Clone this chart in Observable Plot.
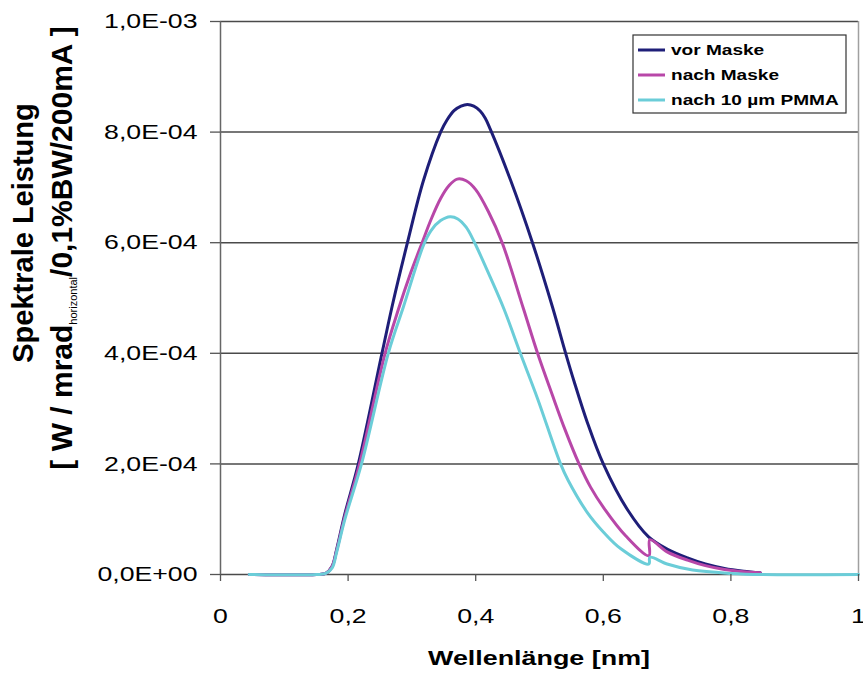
<!DOCTYPE html>
<html><head><meta charset="utf-8">
<script src="https://cdn.jsdelivr.net/npm/d3@7"></script>
<script src="https://cdn.jsdelivr.net/npm/@observablehq/plot@0.6"></script>
<style>
body{margin:0;background:#fff;}
#chart svg{font-family:"Liberation Sans",Arial,sans-serif;display:block;}
</style>
</head><body><div id="chart"></div><script>
const seriesNames = ["vor Maske", "nach Maske", "nach 10 µm PMMA"];
const seriesColors = ["#1e1e78", "#b847a8", "#6bcdd8"];

// wavelength [nm]
const vorX = [0.045,0.15,0.165,0.175,0.182,0.195,0.216,0.254,0.271,0.293,0.318,0.345,0.355,0.366,0.377,0.387,0.397,0.407,0.415,0.423,0.455,0.489,0.52,0.541,0.554,0.575,0.60,0.638,0.671,0.70,0.732,0.76,0.79,0.82,0.846];
// spectral power [1e-4 units]
const vorY = [0,0,0.02,0.15,0.45,1.1,2.0,4.05,4.95,6.0,7.12,8.0,8.22,8.39,8.47,8.5,8.47,8.38,8.25,8.05,7.12,6.0,4.85,4.0,3.5,2.75,2.0,1.17,0.68,0.46,0.30,0.19,0.11,0.06,0.03];

const nachX = [0.045,0.15,0.165,0.175,0.182,0.195,0.218,0.258,0.279,0.298,0.316,0.33,0.345,0.358,0.371,0.385,0.40,0.42,0.4415,0.475,0.497,0.52,0.54,0.562,0.58,0.601,0.635,0.6715,0.673,0.70,0.732,0.76,0.79,0.82,0.846];
const nachY = [0,0,0.02,0.15,0.43,1.05,2.0,4.0,4.8,5.45,6.0,6.42,6.8,7.03,7.15,7.12,6.96,6.56,6.0,4.8,4.0,3.25,2.62,2.0,1.58,1.2,0.7,0.34,0.63,0.41,0.26,0.16,0.09,0.05,0.03];

const pmmaX = [0.045,0.15,0.165,0.175,0.182,0.195,0.221,0.263,0.287,0.318,0.33,0.345,0.36,0.372,0.385,0.397,0.42,0.444,0.47,0.497,0.533,0.545,0.575,0.60,0.627,0.6715,0.673,0.70,0.74,0.80,0.85,1.0];
const pmmaY = [0,0,0.02,0.12,0.4,1.0,2.0,4.0,4.85,5.95,6.22,6.4,6.47,6.43,6.28,6.03,5.45,4.81,4.0,3.18,2.0,1.7,1.12,0.77,0.47,0.19,0.31,0.19,0.08,0.02,0.0,0.0];

const xTicks = [0, 0.2, 0.4, 0.6, 0.8, 1];
const xTickLabels = ["0", "0,2", "0,4", "0,6", "0,8", "1"];
const yTicks = [0, 2e-4, 4e-4, 6e-4, 8e-4, 1e-3];
const yTickLabels = ["0,0E+00", "2,0E-04", "4,0E-04", "6,0E-04", "8,0E-04", "1,0E-03"];

const xTitle = "Wellenlänge [nm]";
const yTitle1 = "Spektrale Leistung";
const yTitle2a = "[ W / mrad";
const yTitle2sub = "horizontal";
const yTitle2b = "/0,1%BW/200mA ]";

const rows = [];
[[vorX, vorY], [nachX, nachY], [pmmaX, pmmaY]].forEach(([xs, ys], k) => {
  xs.forEach((x, i) => rows.push({series: seriesNames[k], x, y: ys[i] * 1e-4}));
});

const plot = Plot.plot({
  width: 863, height: 675,
  marginLeft: 220, marginRight: 5, marginTop: 21, marginBottom: 101,
  style: {fontFamily: '"Liberation Sans", Arial, sans-serif', fontSize: "21px", background: "#fff", color: "#000"},
  x: {domain: [0, 1]},
  y: {domain: [0, 1e-3]},
  color: {domain: seriesNames, range: seriesColors},
  marks: [
    Plot.ruleY(yTicks, {stroke: "#4a4a4a", strokeWidth: 1.5}),
    Plot.ruleX([1], {stroke: "#a0a0a0", strokeWidth: 1.5}),
    Plot.ruleX([0], {stroke: "#666", strokeWidth: 1.5}),
    Plot.line(rows, {x: "x", y: "y", z: "series", stroke: "series", strokeWidth: 3, curve: "catmull-rom"}),
    Plot.axisY(yTicks, {tickFormat: d => yTickLabels[yTicks.indexOf(d)], tickSize: 10, tickPadding: 13, label: null, stroke: "#555", strokeWidth: 1.3}),
    Plot.axisX(xTicks, {tickFormat: d => xTickLabels[xTicks.indexOf(d)], tickSize: 7, tickPadding: 27, label: null, stroke: "#555", strokeWidth: 1.3})
  ]
});
document.getElementById("chart").appendChild(plot);

const svg = d3.select(plot);
const stretch = 1.27;
function widen(node, f) {
  const w = node.getComputedTextLength();
  node.setAttribute("textLength", (w * f).toFixed(1));
  node.setAttribute("lengthAdjust", "spacingAndGlyphs");
}
plot.querySelectorAll('g[aria-label$="tick label"] text').forEach(t => widen(t, stretch));

// x axis title
const xt = svg.append("text")
  .attr("x", 539).attr("y", 665)
  .attr("text-anchor", "middle")
  .attr("font-weight", "bold").attr("font-size", 21)
  .attr("fill", "#000")
  .text(xTitle);
widen(xt.node(), 1.28);

// y axis title (two lines, rotated)
svg.append("text")
  .attr("transform", "translate(33,233) rotate(-90)")
  .attr("text-anchor", "middle")
  .attr("font-weight", "bold").attr("font-size", 29)
  .attr("fill", "#000")
  .text(yTitle1);
const y2 = svg.append("text")
  .attr("transform", "translate(72,248) rotate(-90)")
  .attr("text-anchor", "middle")
  .attr("font-weight", "bold").attr("font-size", 30)
  .attr("fill", "#000");
y2.append("tspan").text(yTitle2a);
y2.append("tspan").attr("font-size", 11).attr("font-weight", "normal").attr("dy", 5).text(yTitle2sub);
y2.append("tspan").attr("dy", -5).text(yTitle2b);

// legend
const lg = svg.append("g").attr("text-anchor", "start");
lg.append("rect").attr("x", 633).attr("y", 35).attr("width", 213).attr("height", 78)
  .attr("fill", "#fff").attr("stroke", "#333").attr("stroke-width", 1.2);
const rowY = [50, 75, 100];
seriesNames.forEach((name, i) => {
  lg.append("line").attr("x1", 638).attr("x2", 665).attr("y1", rowY[i]).attr("y2", rowY[i])
    .attr("stroke", seriesColors[i]).attr("stroke-width", 3);
  const t = lg.append("text").attr("x", 671).attr("y", rowY[i]).attr("dy", "0.36em")
    .attr("text-anchor", "start")
    .attr("font-weight", "bold").attr("font-size", 15).attr("fill", "#000").text(name);
  widen(t.node(), stretch);
});
</script></body></html>
